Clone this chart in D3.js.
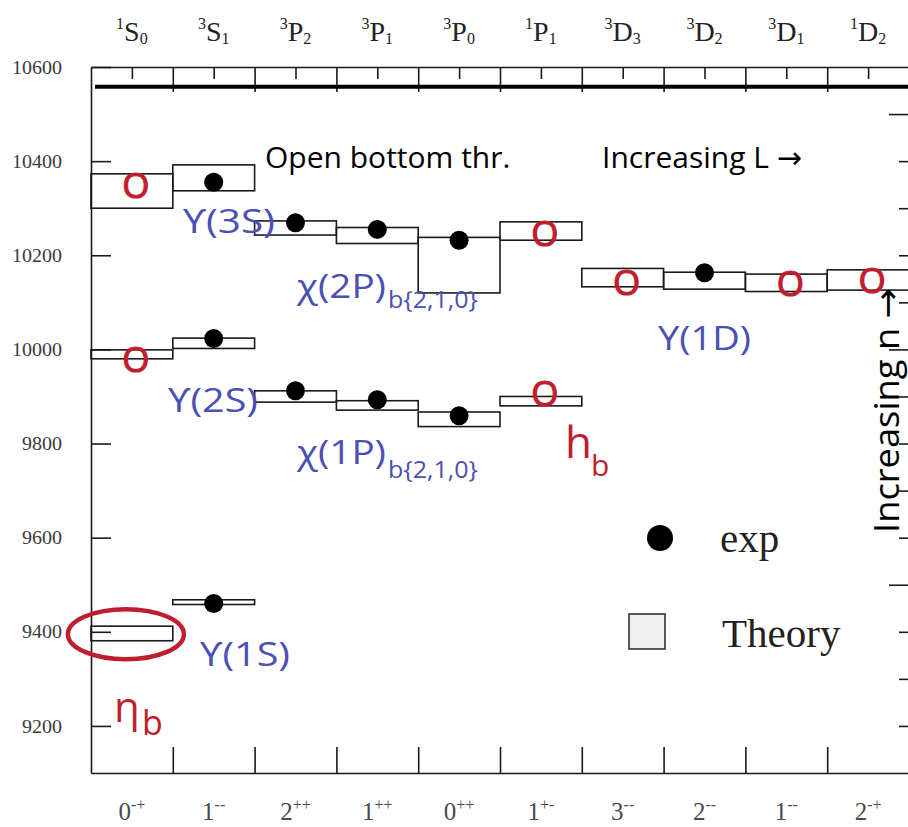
<!DOCTYPE html>
<html><head><meta charset="utf-8">
<script src="https://cdn.jsdelivr.net/npm/d3@7"></script>
<style>
html,body{margin:0;padding:0;background:#fff;}
svg{display:block;}
</style></head><body>
<svg id="chart" width="908" height="827"></svg>
<script>
// Bottomonium spectrum: quark-model predictions (boxes) against measured masses (dots), in MeV.

// Column headers: spectroscopic term 2S+1 L J
const termSup = ["1","3","3","3","3","1","3","3","3","1"];
const termL   = ["S","S","P","P","P","P","D","D","D","D"];
const termJ   = ["0","1","2","1","0","1","3","2","1","2"];

// Column footers: J^PC
const jpcJ  = ["0","1","2","1","0","1","3","2","1","2"];
const jpcPC = ["-+","--","++","++","++","+-","--","--","--","-+"];

// Mass axis ticks
const massTicks = [9200, 9400, 9600, 9800, 10000, 10200, 10400, 10600];

// Predicted mass bands (column index, low, high)
const theoryS = [
  {col:0, lo:9381,  hi:9412},  {col:0, lo:9980,  hi:9999},  {col:0, lo:10300, hi:10373},
  {col:1, lo:9458,  hi:9468},  {col:1, lo:10002, hi:10024}, {col:1, lo:10337, hi:10392}
];
const theoryP = [
  {col:2, lo:9888, hi:9912}, {col:2, lo:10243, hi:10273},
  {col:3, lo:9871, hi:9891}, {col:3, lo:10225, hi:10259},
  {col:4, lo:9836, hi:9867}, {col:4, lo:10120, hi:10238},
  {col:5, lo:9880, hi:9900}, {col:5, lo:10232, hi:10271}
];
const theoryD = [
  {col:6, lo:10133, hi:10172}, {col:7, lo:10128, hi:10164},
  {col:8, lo:10123, hi:10160}, {col:9, lo:10126, hi:10169}
];

// Measured masses
const expMasses = [
  {col:1, m:9460}, {col:1, m:10023}, {col:1, m:10355},
  {col:2, m:9912}, {col:2, m:10269},
  {col:3, m:9893}, {col:3, m:10255},
  {col:4, m:9859}, {col:4, m:10232},
  {col:7, m:10163}
];

// Hand-marked states (red circles)
const openMarks = [
  {col:0, m:10349}, {col:0, m:9978},
  {col:5, m:10247}, {col:5, m:9907},
  {col:6, m:10143}, {col:8, m:10141}, {col:9, m:10147}
];

// Open-bottom (B Bbar) threshold
const thresholdMass = 10558;

const svg = d3.select("#chart");
const L = 91, R = 909, T = 67, B = 773;
const x = d3.scaleLinear().domain([0, 10]).range([L, R]);
const y = d3.scaleLinear().domain([9100, 10600]).range([B, T]);

const ink = "#1a1a1a";
const blue = "#4a50b4";
const red = "#c01e2e";
const serif = "'Liberation Serif', 'Times New Roman', serif";
const sans = "'Open Sans', 'DejaVu Sans', sans-serif";

function styleAxis(g) {
  g.attr("font-family", null).attr("font-size", null);
  g.selectAll("path, line").attr("stroke", ink).attr("stroke-width", 1.6);
}

// Top frame with column separators and centre marks
svg.append("g").attr("transform", `translate(0,${T})`)
  .call(d3.axisBottom(x).tickValues(d3.range(1, 10)).tickSizeInner(25).tickSizeOuter(0).tickFormat(""))
  .call(styleAxis);
svg.append("g").attr("transform", `translate(0,${T})`)
  .call(d3.axisBottom(x).tickValues(d3.range(10).map(i => i + 0.5)).tickSize(12).tickFormat(""))
  .call(styleAxis).call(g => g.select(".domain").remove());

// Bottom frame
svg.append("g").attr("transform", `translate(0,${B})`)
  .call(d3.axisTop(x).tickValues(d3.range(1, 10)).tickSizeInner(26).tickSizeOuter(0).tickFormat(""))
  .call(styleAxis);

// Left mass axis, ticks pointing inward
const yAxis = svg.append("g").attr("transform", `translate(${L},0)`)
  .call(d3.axisLeft(y).tickValues(massTicks).tickSizeInner(-20).tickSizeOuter(0).tickPadding(29).tickFormat(d3.format("d")))
  .call(styleAxis);
yAxis.selectAll("text")
  .attr("font-family", serif).attr("font-size", 19).attr("fill", "#3a3a3a")
  .attr("textLength", 50).attr("lengthAdjust", "spacingAndGlyphs");
yAxis.selectAll("text").filter(d => d < 10000).attr("textLength", 40);

// Right edge ticks
svg.append("g").attr("transform", `translate(${R},0)`)
  .call(d3.axisLeft(y).tickValues(d3.range(9200, 10600, 100).filter(v => v % 500 !== 0)).tickSize(10).tickSizeOuter(0).tickFormat(""))
  .call(styleAxis);
svg.append("g").attr("transform", `translate(${R},0)`)
  .call(d3.axisLeft(y).tickValues([9500, 10000, 10500]).tickSize(20).tickSizeOuter(0).tickFormat(""))
  .call(styleAxis).call(g => g.select(".domain").remove());

// Threshold line
svg.append("line")
  .attr("x1", L + 4).attr("x2", R)
  .attr("y1", y(thresholdMass)).attr("y2", y(thresholdMass))
  .attr("stroke", "#000").attr("stroke-width", 4);

// Column headers
const head = svg.append("g").selectAll("text").data(d3.range(10)).join("text")
  .attr("x", i => x(i + 0.5)).attr("y", 41)
  .attr("text-anchor", "middle").attr("font-family", serif).attr("fill", "#222");
head.append("tspan").attr("font-size", 16).attr("dy", -12).text(i => termSup[i]);
head.append("tspan").attr("font-size", 28).attr("dy", 12).text(i => termL[i]);
head.append("tspan").attr("font-size", 16).attr("dy", 3).text(i => termJ[i]);

// Column footers
const foot = svg.append("g").selectAll("text").data(d3.range(10)).join("text")
  .attr("x", i => x(i + 0.5)).attr("y", 820)
  .attr("text-anchor", "middle").attr("font-family", serif).attr("fill", "#4a4a4a");
foot.append("tspan").attr("font-size", 25).text(i => jpcJ[i]);
foot.append("tspan").attr("font-size", 16).attr("dy", -10).text(i => jpcPC[i]);

// Theory boxes
svg.append("g").selectAll("rect").data([...theoryS, ...theoryP, ...theoryD]).join("rect")
  .attr("x", d => x(d.col)).attr("width", d => x(d.col + 1) - x(d.col))
  .attr("y", d => y(d.hi)).attr("height", d => y(d.lo) - y(d.hi))
  .attr("fill", "none").attr("stroke", ink).attr("stroke-width", 1.6);

// Experimental points
svg.append("g").selectAll("circle").data(expMasses).join("circle")
  .attr("cx", d => x(d.col + 0.5)).attr("cy", d => y(d.m)).attr("r", 9.5)
  .attr("fill", "#000");

// Red circle marks
svg.append("g").selectAll("text").data(openMarks).join("text")
  .attr("x", d => x(d.col + 0.5) + 4).attr("y", d => y(d.m)).attr("dy", "0.36em")
  .attr("text-anchor", "middle").attr("font-family", sans).attr("font-size", 35)
  .attr("fill", red).attr("stroke", red).attr("stroke-width", 1.2).text("O");

// Ring around the ground-state eta_b band
svg.append("ellipse")
  .attr("cx", x(0.5) - 6).attr("cy", y(9395)).attr("rx", 58).attr("ry", 25)
  .attr("fill", "none").attr("stroke", red).attr("stroke-width", 4.5);

// Black annotations
const ann = svg.append("g").attr("font-family", sans).attr("fill", "#000");
ann.append("text").attr("x", 265).attr("y", 168).attr("font-size", 30).text("Open bottom thr.");
ann.append("text").attr("x", 602).attr("y", 168).attr("font-size", 30).text("Increasing L \u2192");
ann.append("text").attr("transform", "translate(899,533) rotate(-90)").attr("font-size", 34)
  .attr("textLength", 245).attr("lengthAdjust", "spacingAndGlyphs").text("Increasing n \u2192");

// State names
const lab = svg.append("g").attr("font-family", sans).attr("fill", blue);
function stateName(x0, y0, size, width, str) {
  lab.append("text").attr("x", x0).attr("y", y0).attr("font-size", size)
    .attr("textLength", width).attr("lengthAdjust", "spacingAndGlyphs").text(str);
}
stateName(183, 233, 32, 92, "\u03D2(3S)");
stateName(168, 412, 32, 90, "\u03D2(2S)");
stateName(200, 666, 32, 90, "\u03D2(1S)");
stateName(658, 350, 33, 93, "\u03A5(1D)");
stateName(297, 298, 33, 89, "\u03C7(2P)");
stateName(388, 308, 24, 90, "b{2,1,0}");
stateName(297, 464, 33, 89, "\u03C7(1P)");
stateName(388, 478, 24, 90, "b{2,1,0}");

const rlab = svg.append("g").attr("font-family", sans).attr("fill", red);
rlab.append("text").attr("x", 114).attr("y", 722).attr("font-size", 42).text("\u03B7");
rlab.append("text").attr("x", 142).attr("y", 735).attr("font-size", 34).text("b");
rlab.append("text").attr("x", 565).attr("y", 458).attr("font-size", 44).text("h");
rlab.append("text").attr("x", 591).attr("y", 476).attr("font-size", 30).text("b");

// Legend
const leg = svg.append("g");
leg.append("circle").attr("cx", 660).attr("cy", 538).attr("r", 13).attr("fill", "#000");
leg.append("text").attr("x", 720).attr("y", 552).attr("font-family", serif).attr("font-size", 41).attr("fill", "#222").text("exp");
leg.append("rect").attr("x", 629).attr("y", 614).attr("width", 36).attr("height", 35)
  .attr("fill", "#efefef").attr("stroke", "#333").attr("stroke-width", 1.6);
leg.append("text").attr("x", 722).attr("y", 647).attr("font-family", serif).attr("font-size", 41).attr("fill", "#222").text("Theory");
</script>
</body></html>
